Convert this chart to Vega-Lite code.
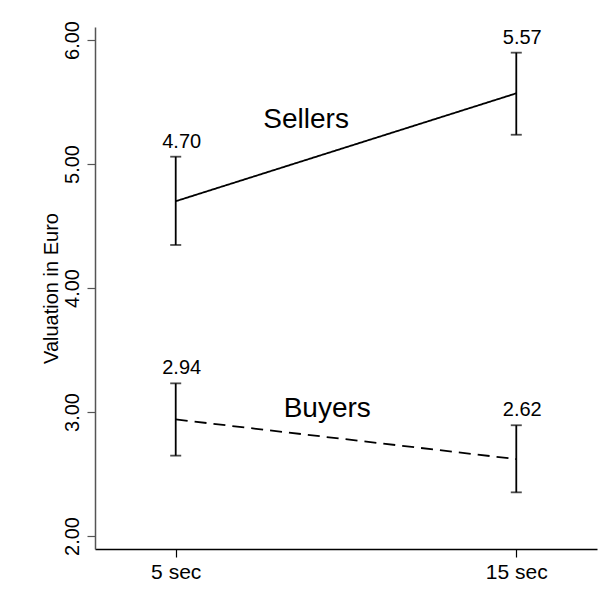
{
  "$schema": "https://vega.github.io/schema/vega-lite/v6.json",
  "width": 502,
  "height": 522,
  "autosize": "none",
  "padding": {"left": 95, "top": 27, "right": 16, "bottom": 58},
  "background": "white",
  "config": {
    "view": {"stroke": null},
    "font": "Liberation Sans",
    "axis": {"grid": false, "labelFont": "Liberation Sans", "titleFont": "Liberation Sans", "labelColor": "#000", "titleColor": "#000", "titleFontWeight": "normal"}
  },
  "datasets": {
    "points": [
      {"group": "Sellers", "time": 5, "mean": 4.70, "lower": 4.347, "upper": 5.059, "label": "4.70"},
      {"group": "Sellers", "time": 15, "mean": 5.57, "lower": 5.236, "upper": 5.898, "label": "5.57"},
      {"group": "Buyers", "time": 5, "mean": 2.94, "lower": 2.648, "upper": 3.231, "label": "2.94"},
      {"group": "Buyers", "time": 15, "mean": 2.62, "lower": 2.352, "upper": 2.893, "label": "2.62"}
    ],
    "names": [
      {"name": "Sellers", "x": 8.83, "y": 5.293},
      {"name": "Buyers", "x": 9.45, "y": 2.962}
    ]
  },
  "data": {"name": "points"},
  "layer": [
    {
      "mark": {"type": "line", "color": "#000", "strokeWidth": 1.8},
      "encoding": {
        "x": {"field": "time", "type": "quantitative", "scale": {"domain": [2.63, 17.37], "nice": false, "zero": false},
          "axis": {"values": [5, 15], "labelExpr": "datum.value == 5 ? '5 sec' : '15 sec'", "title": null, "tickSize": 8, "labelFontSize": 21, "labelPadding": 4, "domainColor": "#000", "tickColor": "#000", "domainWidth": 1.5, "tickWidth": 1.2}},
        "y": {"field": "mean", "type": "quantitative", "scale": {"domain": [1.895, 6.105], "nice": false, "zero": false},
          "axis": {"values": [2, 3, 4, 5, 6], "format": ".2f", "title": "Valuation in Euro", "titleFontSize": 20, "titlePadding": 1, "labelAngle": -90, "labelAlign": "center", "labelBaseline": "bottom", "labelFontSize": 20, "labelPadding": 5, "tickSize": 8, "domainColor": "#555", "tickColor": "#555", "domainWidth": 1.5, "tickWidth": 1.2}},
        "detail": {"field": "group"},
        "strokeDash": {"field": "group", "type": "nominal", "scale": {"domain": ["Sellers", "Buyers"], "range": [[1, 0], [12, 7]]}, "legend": null}
      }
    },
    {
      "mark": {"type": "rule", "color": "#000", "strokeWidth": 1.8},
      "encoding": {
        "x": {"field": "time", "type": "quantitative"},
        "y": {"field": "lower", "type": "quantitative"},
        "y2": {"field": "upper"}
      }
    },
    {
      "mark": {"type": "tick", "orient": "horizontal", "color": "#000", "size": 11, "thickness": 1.8},
      "encoding": {
        "x": {"field": "time", "type": "quantitative"},
        "y": {"field": "lower", "type": "quantitative"}
      }
    },
    {
      "mark": {"type": "tick", "orient": "horizontal", "color": "#000", "size": 11, "thickness": 1.8},
      "encoding": {
        "x": {"field": "time", "type": "quantitative"},
        "y": {"field": "upper", "type": "quantitative"}
      }
    },
    {
      "mark": {"type": "text", "fontSize": 20, "baseline": "alphabetic", "align": "center", "dy": -9, "dx": 6, "color": "#000"},
      "encoding": {
        "x": {"field": "time", "type": "quantitative"},
        "y": {"field": "upper", "type": "quantitative"},
        "text": {"field": "label"}
      }
    },
    {
      "data": {"name": "names"},
      "mark": {"type": "text", "fontSize": 28, "baseline": "alphabetic", "align": "center", "color": "#000"},
      "encoding": {
        "x": {"field": "x", "type": "quantitative"},
        "y": {"field": "y", "type": "quantitative"},
        "text": {"field": "name"}
      }
    }
  ]
}
